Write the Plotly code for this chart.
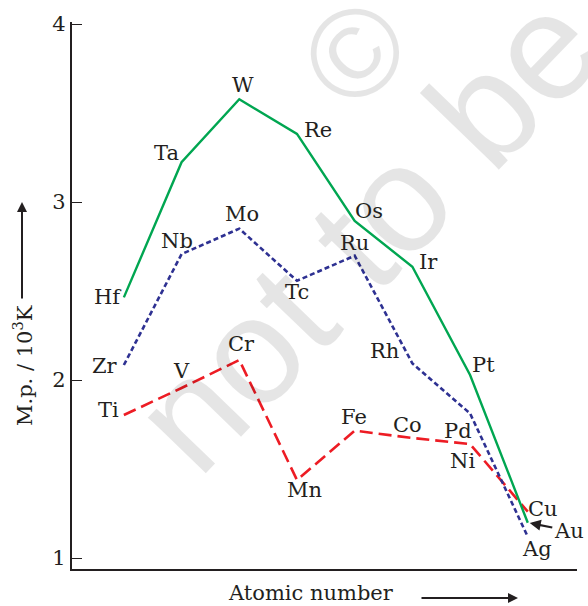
import plotly.graph_objects as go

# ---- data ----
group = [4, 5, 6, 7, 8, 9, 10, 11]
elements_3d = ["Ti", "V", "Cr", "Mn", "Fe", "Co", "Ni", "Cu"]
mp_3d = [1.804, 1.956, 2.113, 1.439, 1.716, 1.675, 1.641, 1.261]
elements_4d = ["Zr", "Nb", "Mo", "Tc", "Ru", "Rh", "Pd", "Ag"]
mp_4d = [2.085, 2.708, 2.851, 2.558, 2.699, 2.094, 1.813, 1.120]
elements_5d = ["Hf", "Ta", "W", "Re", "Os", "Ir", "Pt", "Au"]
mp_5d = [2.465, 3.224, 3.578, 3.383, 2.894, 2.637, 2.029, 1.199]
y_ticks = [1, 2, 3, 4]

# label offsets (pixels, relative to point) - styling
off_3d = [(-15, 5), (0, 17), (2, 16), (8, -10), (-1, 14), (-5, 13), (-8, -17), (15, 3)]
off_4d = [(-19, -1), (-5, 13), (3, 15), (0, -11), (0, 13), (-28, 12), (-12, -18), (9, -12)]
off_5d = [(-16, 0), (-15, 9), (4, 14), (21, 4), (14, 10), (16, 5), (13, 10), None]

FONT = "DejaVu Serif"
FS = 21
TXT = "#231f20"

fig = go.Figure()

fig.add_trace(go.Scatter(x=group, y=mp_3d, mode="lines", name="3d",
                         line=dict(color="#ed1c24", width=2.6, dash="13px,6px")))
fig.add_trace(go.Scatter(x=group, y=mp_4d, mode="lines", name="4d",
                         line=dict(color="#2e3192", width=2.6, dash="5px,3px")))
fig.add_trace(go.Scatter(x=group, y=mp_5d, mode="lines", name="5d",
                         line=dict(color="#00a651", width=2.4)))

annotations = []

# watermark
annotations.append(dict(xref="paper", yref="paper", x=(366 - 72) / 505, y=(569 - 231) / 547,
                        text="not to be", showarrow=False, textangle=-46,
                        font=dict(family="Liberation Sans", size=152, color="rgba(0,0,0,0.10)"),
                        xanchor="center", yanchor="middle"))
annotations.append(dict(xref="paper", yref="paper", x=(355 - 72) / 505, y=(569 - 53) / 547,
                        text="©", showarrow=False, textangle=-46,
                        font=dict(family="Liberation Sans", size=125, color="rgba(0,0,0,0.10)"),
                        xanchor="center", yanchor="middle"))

for els, vals, offs in [(elements_3d, mp_3d, off_3d), (elements_4d, mp_4d, off_4d),
                        (elements_5d, mp_5d, off_5d)]:
    for g, el, v, o in zip(group, els, vals, offs):
        if o is None:
            continue
        annotations.append(dict(x=g, y=v, text=el, showarrow=False,
                                xshift=o[0], yshift=o[1],
                                font=dict(family=FONT, size=FS, color=TXT)))

# Au with arrow
annotations.append(dict(x=group[-1], y=mp_5d[-1], text=elements_5d[-1], showarrow=True,
                        ax=41, ay=8, arrowhead=2, arrowsize=1, arrowwidth=2.2,
                        arrowcolor=TXT, standoff=2,
                        font=dict(family=FONT, size=FS, color=TXT)))

# y-axis title with arrow
annotations.append(dict(xref="paper", yref="paper", x=(23 - 72) / 505, y=(569 - 366) / 547,
                        text="M.p. / 10<sup>3</sup>K", showarrow=False, textangle=-90,
                        font=dict(family=FONT, size=FS, color=TXT),
                        xanchor="center", yanchor="middle"))
annotations.append(dict(xref="paper", yref="paper", x=(22 - 72) / 505, y=(569 - 202) / 547,
                        text="", showarrow=True, ax=0, ay=98, arrowhead=2, arrowsize=1,
                        arrowwidth=2, arrowcolor=TXT))

# x-axis title with arrow
annotations.append(dict(xref="paper", yref="paper", x=(311 - 72) / 505, y=(569 - 593) / 547,
                        text="Atomic number", showarrow=False,
                        font=dict(family=FONT, size=FS, color=TXT),
                        xanchor="center", yanchor="middle"))
annotations.append(dict(xref="paper", yref="paper", x=(518 - 72) / 505, y=(569 - 598) / 547,
                        text="", showarrow=True, ax=-98, ay=0, arrowhead=2, arrowsize=1,
                        arrowwidth=2, arrowcolor=TXT))

fig.update_layout(
    width=588, height=606,
    margin=dict(l=72, r=11, t=22, b=37),
    paper_bgcolor="white", plot_bgcolor="white",
    showlegend=False,
    annotations=annotations,
    xaxis=dict(range=[3.101, 11.853], showticklabels=False, ticks="", showgrid=False,
               zeroline=False, showline=True, linecolor=TXT, linewidth=2.2),
    yaxis=dict(range=[0.939, 4.012], tickvals=y_ticks, ticktext=[str(t) for t in y_ticks],
               ticks="inside", ticklen=10, tickwidth=1.2, tickcolor=TXT,
               showgrid=False, zeroline=False, showline=True, linecolor=TXT, linewidth=2.2,
               tickfont=dict(family=FONT, size=FS, color=TXT)),
)

fig.write_html("out.html")
